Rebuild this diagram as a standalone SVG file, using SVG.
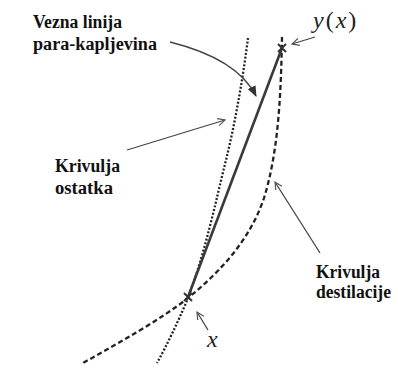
<svg xmlns="http://www.w3.org/2000/svg" width="398" height="379" viewBox="0 0 398 379">
<defs>
<marker id="open" viewBox="0 0 10 10" refX="9" refY="5" markerWidth="9" markerHeight="9" orient="auto" markerUnits="userSpaceOnUse">
<path d="M1,1 L9,5 L1,9" fill="none" stroke="#555" stroke-width="1.3"/>
</marker>
<marker id="filled" viewBox="0 0 10 10" refX="9" refY="5" markerWidth="11" markerHeight="11" orient="auto" markerUnits="userSpaceOnUse">
<path d="M0,1 L10,5 L0,9 Z" fill="#333"/>
</marker>
</defs>
<style>
.lbl{font-family:"Liberation Serif","Times New Roman",serif;font-weight:bold;font-size:18px;fill:#111}
.math{font-family:"Liberation Serif","DejaVu Serif",serif;font-size:24px;fill:#222}
.curve{fill:none;stroke:#222;stroke-width:2.3}
.dotted{stroke-dasharray:2 1.8}
.dashed{stroke-dasharray:5 3}
.ptr{fill:none;stroke:#444;stroke-width:1.3}
.mark{stroke:#333;stroke-width:2;fill:none}
</style>
<rect width="398" height="379" fill="#fff"/>
<g id="curves">
<path id="residue-curve" class="curve dotted" d="M248,38 C244,70 236,120 226,160 C216,200 206,250 188,298 C178,322 167,345 157,363"/>
<path id="distillation-curve" class="curve dashed" d="M282,37 C281,90 279,150 264,198 C250,240 220,272 188,298 C160,320 120,342 83,363"/>
<line id="tie-line" x1="188" y1="297" x2="282" y2="48" stroke="#3a3a3a" stroke-width="2.6"/>
</g>
<g id="markers">
<path id="mark-y" class="mark" d="M278,44 L286,52 M286,44 L278,52"/>
<path id="mark-x" class="mark" d="M184,293 L192,301 M192,293 L184,301"/>
</g>
<g id="connectors">
<path class="ptr" d="M170,42 C210,52 242,68 256,96" stroke-width="1.6" marker-end="url(#filled)"/>
<line class="ptr" x1="127" y1="150" x2="225" y2="120" marker-end="url(#open)"/>
<line class="ptr" x1="320" y1="253" x2="275" y2="182" marker-end="url(#open)"/>
<line class="ptr" x1="315" y1="37" x2="292" y2="44" marker-end="url(#open)"/>
<line class="ptr" x1="208" y1="330" x2="197" y2="312" marker-end="url(#open)"/>
</g>
<g id="label-tie">
<text class="lbl" x="33" y="28" textLength="89" lengthAdjust="spacingAndGlyphs">Vezna linija</text>
<text class="lbl" x="33" y="50" textLength="124" lengthAdjust="spacingAndGlyphs">para-kapljevina</text>
</g>
<g id="label-residue">
<text class="lbl" x="55" y="172" textLength="65" lengthAdjust="spacingAndGlyphs">Krivulja</text>
<text class="lbl" x="55" y="194" textLength="58" lengthAdjust="spacingAndGlyphs">ostatka</text>
</g>
<g id="label-distillation">
<text class="lbl" x="316" y="278" textLength="64" lengthAdjust="spacingAndGlyphs">Krivulja</text>
<text class="lbl" x="316" y="298" font-size="17" textLength="75" lengthAdjust="spacingAndGlyphs">destilacije</text>
</g>
<g id="label-yx">
<text class="math" x="313" y="28" letter-spacing="2"><tspan font-style="italic">y</tspan>(<tspan font-style="italic">x</tspan>)</text>
</g>
<g id="label-x">
<text class="math" x="207" y="347" font-style="italic">x</text>
</g>
</svg>
